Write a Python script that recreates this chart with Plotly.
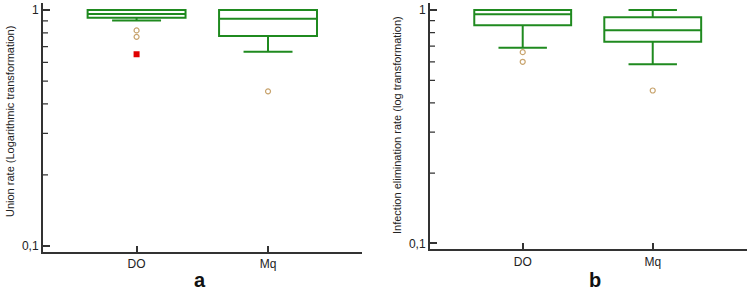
import plotly.graph_objects as go

categories = ["DO", "Mq"]

# Panel a: Union rate
a_q1 = [0.928, 0.776]
a_median = [0.962, 0.919]
a_q3 = [1.0, 1.0]
a_lower = [0.904, 0.666]
a_upper = [1.0, 1.0]
a_out_x = ["DO", "DO", "Mq"]
a_out_y = [0.82, 0.77, 0.452]
a_extreme_x = ["DO"]
a_extreme_y = [0.649]

# Panel b: Infection elimination rate
b_q1 = [0.86, 0.731]
b_median = [0.958, 0.818]
b_q3 = [1.0, 0.93]
b_lower = [0.689, 0.585]
b_upper = [1.0, 1.0]
b_out_x = ["DO", "DO", "Mq"]
b_out_y = [0.66, 0.60, 0.452]

y_tickvals = [0.1, 1]
y_ticktext = ["0,1", "1"]
minor_vals = [0.2, 0.3, 0.4, 0.5, 0.6, 0.7, 0.8, 0.9]

GREEN = "#1f8a1f"
TAN = "#c8a46e"
AX = "#333333"
FONT = "Liberation Sans, Arial, sans-serif"

fig = go.Figure()

def add_panel(q1, med, q3, lo, hi, ox, oy, xa, ya):
    fig.add_trace(go.Box(
        x=categories, q1=q1, median=med, q3=q3, lowerfence=lo, upperfence=hi,
        width=0.745, whiskerwidth=0.5, boxpoints=False,
        line=dict(color=GREEN, width=2), fillcolor="rgba(255,255,255,0)",
        xaxis=xa, yaxis=ya, showlegend=False, hoverinfo="skip",
    ))
    fig.add_trace(go.Scatter(
        x=ox, y=oy, mode="markers", xaxis=xa, yaxis=ya, showlegend=False,
        marker=dict(symbol="circle-open", size=5, color=TAN, line=dict(width=1.2, color=TAN)),
    ))

add_panel(a_q1, a_median, a_q3, a_lower, a_upper, a_out_x, a_out_y, "x", "y")
fig.add_trace(go.Scatter(
    x=a_extreme_x, y=a_extreme_y, mode="markers", xaxis="x", yaxis="y", showlegend=False,
    marker=dict(symbol="square", size=6, color="#e00000"),
))
add_panel(b_q1, b_median, b_q3, b_lower, b_upper, b_out_x, b_out_y, "x2", "y2")

W, H = 749, 292
YRANGE = [-1.025, 0.03]
xa_common = dict(
    type="category", categoryorder="array", categoryarray=categories,
    range=[-0.712, 1.715], showline=True, linecolor=AX, linewidth=2,
    ticks="inside", ticklen=6, tickcolor=AX, tickwidth=1.5,
    showgrid=False, zeroline=False, tickfont=dict(size=12, color="#222", family=FONT),
)
ya_common = dict(
    type="log", range=YRANGE, showline=True, linecolor=AX, linewidth=2,
    tickmode="array", tickvals=y_tickvals, ticktext=y_ticktext, ticks="inside", ticklen=7,
    tickcolor=AX, tickwidth=1.5, showgrid=False, zeroline=False,
    tickfont=dict(size=12, color="#222", family=FONT),
)

xdom_a = [43 / W, 362 / W]
xdom_b = [430 / W, 747 / W]
dom_a = [1 - 251.7 / H, 1 - 3 / H]
dom_b = [1 - 249.3 / H, 1 - 3 / H]

# minor ticks on the log axes (drawn in axis-domain x, data y)
shapes = []
for xr, yr, dom in (("x domain", "y", xdom_a), ("x2 domain", "y2", xdom_b)):
    frac = 5 / ((dom[1] - dom[0]) * W)
    for v in minor_vals:
        shapes.append(dict(type="line", xref=xr, yref=yr, x0=0, x1=frac, y0=v, y1=v,
                           line=dict(color=AX, width=1.2), layer="above"))

fig.update_layout(
    width=W, height=H, margin=dict(l=0, r=0, t=0, b=0),
    paper_bgcolor="white", plot_bgcolor="white",
    font=dict(family=FONT, color="#222"),
    xaxis=dict(xa_common, domain=xdom_a, anchor="y"),
    yaxis=dict(ya_common, domain=dom_a, anchor="x"),
    xaxis2=dict(xa_common, domain=xdom_b, anchor="y2", range=[-0.713, 1.725]),
    yaxis2=dict(ya_common, domain=dom_b, anchor="x2"),
    shapes=shapes,
    annotations=[
        dict(text="Union rate (Logarithmic transformation)", x=10 / W, y=1 - 122 / H,
             xref="paper", yref="paper", textangle=-90, showarrow=False,
             xanchor="center", yanchor="middle",
             font=dict(size=11, color="#222", family=FONT)),
        dict(text="Infection elimination rate (log transformation)", x=397 / W, y=1 - 125 / H,
             xref="paper", yref="paper", textangle=-90, showarrow=False,
             xanchor="center", yanchor="middle",
             font=dict(size=11, color="#222", family=FONT)),
        dict(text="<b>a</b>", x=200 / W, y=1 - 280 / H, xref="paper", yref="paper",
             showarrow=False, xanchor="center", yanchor="middle",
             font=dict(size=20, color="#111", family=FONT)),
        dict(text="<b>b</b>", x=595 / W, y=1 - 280 / H, xref="paper", yref="paper",
             showarrow=False, xanchor="center", yanchor="middle",
             font=dict(size=20, color="#111", family=FONT)),
    ],
)

fig.write_html("out.html", config={"displayModeBar": False},
               post_script="document.body.style.margin='0';document.body.style.overflow='hidden';")
